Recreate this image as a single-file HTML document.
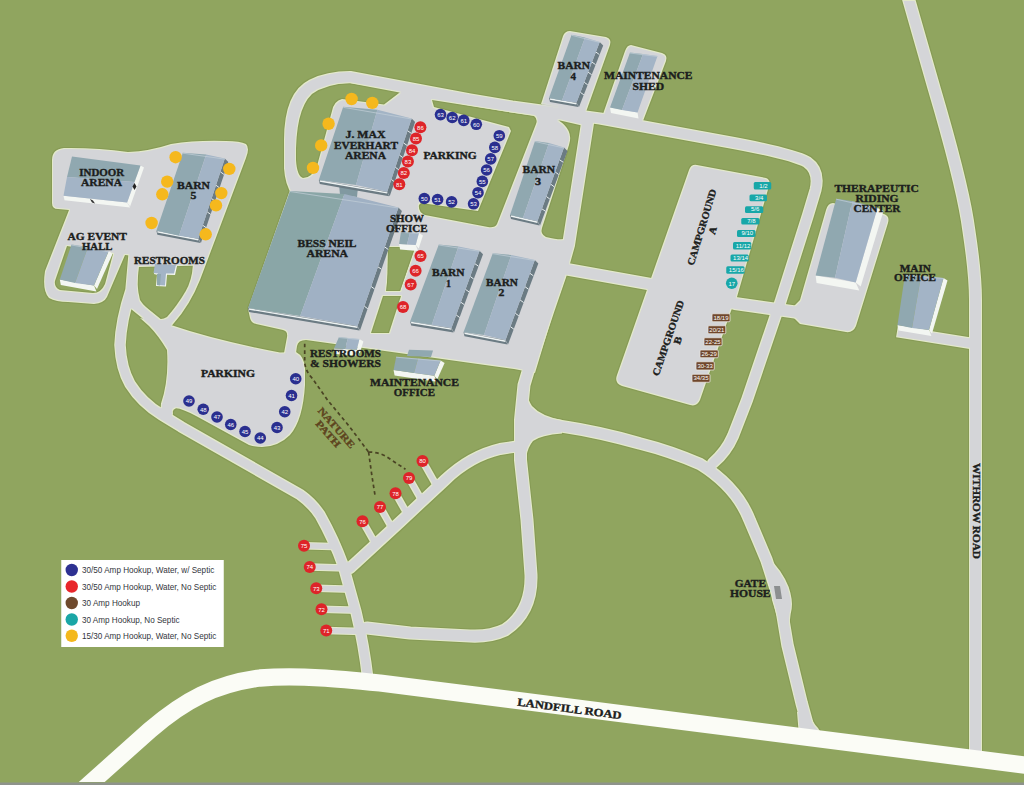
<!DOCTYPE html>
<html><head><meta charset="utf-8"><title>Map</title>
<style>html,body{margin:0;padding:0;background:#90a55f;width:1024px;height:785px;overflow:hidden}
svg{display:block}
text{font-family:"Liberation Serif",serif;font-weight:bold}
.s{font-family:"Liberation Sans",sans-serif;font-weight:normal}
.n{font-family:"Liberation Sans",sans-serif;font-weight:normal;font-size:6px;fill:#fff}
</style></head><body>
<svg width="1024" height="785" viewBox="0 0 1024 785">
<defs>
<mask id="gm" maskUnits="userSpaceOnUse" x="0" y="0" width="1024" height="785">
<rect x="0" y="0" width="1024" height="785" fill="#000"/>
<path d="M64,148 Q52,149 52,160 L52,203 Q52,209 58,209 L69,210 L45,271 Q42,291 49,298 Q56,302 68,302 L94,304 Q104,303 107,297 L125,255 L134,256 L131,300 L168,330 L174,323 Q190,305 200,280 L246,158 Q250,148 246,144 Q240,141 226,141 Q196,140 171,144 Q150,151 128,152 Q100,148 70,148 Z" fill="#fff" />
<path d="M138.5,267 L192.8,265.7 Q192,280 185.6,291.3 Q177,306 167,317 Q162,320 158.5,318.5 Q145,308 140,300 Q136,285 138.5,267 Z" fill="#000" />
<path d="M172.5,325.5 Q215,340 280,352.5 L296,352 Q304,356 305,368 L305,385 Q303,420 290,435 Q278,447 262,447 Q255,447 249,445 L197,416.5 Q182,408.5 176,408.3 Q172,410 173,413 L172,420 L160,420 L161,403.5 Q169,380 167,350 Q158,335 149,326 L140,318 Z" fill="#fff" />
<path d="M290,190 L290,140 Q290,95 312,84 Q328,76 350,76 L589,120 L568,250 L565.5,277.5 L554,310 L535,373 L514,369 L306,340 Q298,340 297,346 L296,353 L284,353 L287,337 Q288,331 283,330 L256,324 Q251,323 250,318 L248,309 Z" fill="#fff" />
<path d="M570,31 L606,37 Q612,39 610,45 L586,112 L541,104 L563,36 Q565,31 570,31 Z" fill="#fff" />
<path d="M631,45 L662,53 Q668,55 666,61 L643,121 L603,114 L625,51 Q627,45 631,45 Z" fill="#fff" />
<path d="M697,165 L766,178 Q771,180 769,186 L737,297 L731,311 L700,400 Q697,407 690,405 L622,386 Q614,383 617,375 L689,170 Q691,164 697,165 Z" fill="#fff" />
<path d="M833,203 L884,214 Q890,216 888,223 L856,326 Q853,333 846,332 L800,324 L788,312 L800,300 L826,210 Q828,203 833,203 Z" fill="#fff" />
<path d="M296,160 Q295,110 312,94 Q326,84 350,83 L401,91.5 L384,104.5 L342,99 Q334,101 332,111 L317,166 Q312,178 303,178 Q297,176 296,160 Z" fill="#000" />
<path d="M432,100 L534,116 Q538,119 536,124 L497,224 Q495,228 488,227 L425,215 Q418,212 419,205 L421,203 L478,211 L511,131 L509,127 L434,107 Z" fill="#000" />
<path d="M558,120 L584,126 L566,238 Q563,241 546,237 Q540,234 542,228 L569,145 Q574,130 558,120 Z" fill="#000" />
<path d="M67,246 L113,254 L105,284 Q101,293 93,293 L60,290 Q54,287 55,281 Z" fill="#000" />
<path d="M388,247 L415,247 L400,291 L387,291 Z" fill="#000" />
<polygon points="391,248 415,248 400,291 386,291" fill="#000" />
<polygon points="383,296 401,296 389,333 371,333" fill="#000" />
<path d="M297,191 Q291,183 290,168 L290,140 Q290,96 312,85 Q328,77 350,77 L470,99.5 L512,106.5 L600,118.5 L720,140.5 Q790,153 807,162 Q820,171 815.5,190 L808,215 L781,300 L747,400 L733,436 Q726,452 713,463" fill="none" stroke="#fff" stroke-width="12" stroke-linejoin="round" stroke-linecap="round"/>
<path d="M588,120 L568.5,245 L560,275 L548,310 L533,355 L524,385 L520.5,420 L520.5,460 L527,520 L531,575 Q532,612 505,630 Q490,637 470,636 L410,633 L367,628" fill="none" stroke="#fff" stroke-width="13" stroke-linejoin="round" stroke-linecap="round"/>
<path d="M560,268 L652,284.5" fill="none" stroke="#fff" stroke-width="12.5" stroke-linejoin="round" stroke-linecap="round"/>
<path d="M735,303.5 L795,312" fill="none" stroke="#fff" stroke-width="13" stroke-linejoin="round" stroke-linecap="round"/>
<path d="M522,419.5 L560,426 Q600,432 640,443.5 Q670,451 700,464 Q737,487 750,521 Q759,542 766.5,560 L778,596 Q782,610 783.5,621 L787.5,645 L801.6,703 L809,730" fill="none" stroke="#fff" stroke-width="12.5" stroke-linejoin="round" stroke-linecap="round"/>
<path d="M350,568 L400,522 L445,480 Q470,456 500,449 L520,446" fill="none" stroke="#fff" stroke-width="12" stroke-linejoin="round" stroke-linecap="round"/>
<path d="M134,256 L131,290 Q121,320 120,345 Q121,368 130,384 Q142,403 162,415 L181,426.7 L300,494.5 Q312,503 320,515 Q334,540 343,565 L356,612 Q364,645 368,680" fill="none" stroke="#fff" stroke-width="11.5" stroke-linejoin="round" stroke-linecap="round"/>
<path d="M131,302 L168,332" fill="none" stroke="#fff" stroke-width="11" stroke-linejoin="round" stroke-linecap="round"/>
<path d="M906,-10 L933,84.4 C942,115 960,175 967.3,220 C971,245 975.5,270 975.5,300 L975.5,755" fill="none" stroke="#fff" stroke-width="13" stroke-linejoin="round" stroke-linecap="round"/>
<path d="M897,331.5 L972,343.5" stroke="#fff" stroke-width="11.5" fill="none"/>
<path d="M304,545.75 L340,546.75" stroke="#fff" stroke-width="7.5" fill="none"/>
<path d="M309.75,567 L345.75,568" stroke="#fff" stroke-width="7.5" fill="none"/>
<path d="M316.25,588.25 L352.25,589.25" stroke="#fff" stroke-width="7.5" fill="none"/>
<path d="M321.5,609.25 L357.5,610.25" stroke="#fff" stroke-width="7.5" fill="none"/>
<path d="M326.25,630.5 L362.25,631.5" stroke="#fff" stroke-width="7.5" fill="none"/>
<path d="M362.5,521.25 L375.0,543.25" stroke="#fff" stroke-width="7.5" fill="none"/>
<path d="M380,507 L392.5,529" stroke="#fff" stroke-width="7.5" fill="none"/>
<path d="M395.5,493.25 L408.0,515.25" stroke="#fff" stroke-width="7.5" fill="none"/>
<path d="M409,478 L421.5,500" stroke="#fff" stroke-width="7.5" fill="none"/>
<path d="M422.5,461 L435.0,483" stroke="#fff" stroke-width="7.5" fill="none"/>
<path d="M527,392 L527,420 L562,420 Q541,416 532,406 Q528,400 527,392 Z" fill="#fff" />
<path d="M526.5,456 L526.5,424 L562,424 L562,433.5 Q541,435 533,441 Q528,447 526.5,456 Z" fill="#fff" />
<path d="M767,556 Q782,570 788.7,587 Q793,600 791.7,608.7 Q789,620 790,632 L784,640 L772,600 Z" fill="#fff" />
<path d="M797,712 L808,710 Q812,722 818,728 L823,736 L799,736 Z" fill="#fff" />
</mask>
<filter id="dil" filterUnits="userSpaceOnUse" x="0" y="0" width="1024" height="785"><feMorphology operator="dilate" radius="1"/></filter>
<filter id="ero" filterUnits="userSpaceOnUse" x="0" y="0" width="1024" height="785"><feMorphology operator="erode" radius="1"/></filter>
</defs>
<rect x="0" y="0" width="1024" height="785" fill="#90a55f"/>
<g filter="url(#dil)"><rect x="0" y="0" width="1024" height="785" fill="#879b55" mask="url(#gm)"/></g>
<rect x="0" y="0" width="1024" height="785" fill="#e3e9cb" mask="url(#gm)"/>
<g filter="url(#ero)"><rect x="0" y="0" width="1024" height="785" fill="#d4d5d8" mask="url(#gm)"/></g>
<path d="M66,805 L150,730 C185,700 215,684 260,678 C300,675 340,679 380,683 L1040,767" fill="none" stroke="#fbfcf6" stroke-width="17.3" stroke-linejoin="round" stroke-linecap="round"/>
<rect x="0" y="782" width="1024" height="1" fill="#8f9d76"/><rect x="0" y="783" width="1024" height="2" fill="#8e938b"/>
<polygon points="140.5,165.4 144.0,167.4 130.1,206.5 127.1,202.5" fill="#f3f6f2"/>
<polygon points="63.5,195.7 127.1,202.5 130.1,207.5 64.5,200.2" fill="#f3f6f2"/>
<polygon points="72.0,156.6 140.5,165.4 134.5,182.0 67.0,177.0" fill="#90a8b0"/>
<polygon points="67.0,177.0 134.5,182.0 127.1,202.5 63.5,195.7" fill="#a3b4c6"/>
<polygon points="134.5,183 136.5,186.5 134.5,190 132.5,186.5" fill="#222"/>
<polygon points="90,199 93,200.5 95,203.5 92,202.5" fill="#333"/>
<polygon points="224.8,158.6 228.3,162.1 200.9,243.1 198.4,238.6" fill="#6b7b83"/>
<line x1="220.4" y1="171.9" x2="223.9" y2="174.4" stroke="#e9eef0" stroke-width="1"/>
<line x1="216.0" y1="185.3" x2="219.5" y2="187.8" stroke="#e9eef0" stroke-width="1"/>
<line x1="211.6" y1="198.6" x2="215.1" y2="201.1" stroke="#e9eef0" stroke-width="1"/>
<line x1="207.2" y1="211.9" x2="210.7" y2="214.4" stroke="#e9eef0" stroke-width="1"/>
<line x1="202.8" y1="225.3" x2="206.3" y2="227.8" stroke="#e9eef0" stroke-width="1"/>
<polygon points="156.4,230.8 198.4,238.6 200.4,243.1 157.4,234.8" fill="#6b7b83"/>
<line x1="157.4" y1="231.8" x2="198.4" y2="239.8" stroke="#eef3f3" stroke-width="1.4"/>
<polygon points="182.8,152.7 206.2,154.6 179.0,235.7 156.4,230.8" fill="#90a8b0"/>
<polygon points="206.2,154.6 224.8,158.6 198.4,238.6 179.0,235.7" fill="#a3b4c6"/>
<line x1="182.8" y1="153.2" x2="224.8" y2="159.1" stroke="#c3cfd8" stroke-width="1" opacity="0.7"/>
<polygon points="108.6,251.3 112.6,253.8 97.0,289.0 94.0,285.5" fill="#f3f6f2"/>
<polygon points="59.8,279.6 94.0,285.5 96.4,291.5 60.8,285.1" fill="#f3f6f2"/>
<polygon points="71.5,244.5 88.0,247.0 75.0,283.0 59.8,279.6" fill="#90a8b0"/>
<polygon points="88.0,247.0 108.6,251.3 94.0,285.5 75.0,283.0" fill="#a3b4c6"/>
<line x1="71.5" y1="245.0" x2="108.6" y2="251.8" stroke="#c3cfd8" stroke-width="1" opacity="0.7"/>
<polygon points="339,184 358,187 357,197 340,195" fill="#8199a1"/>
<polygon points="411.6,118.5 415.1,122.0 389.7,196.2 387.2,191.7" fill="#6b7b83"/>
<line x1="407.5" y1="130.7" x2="411.0" y2="133.2" stroke="#e9eef0" stroke-width="1"/>
<line x1="403.5" y1="142.9" x2="407.0" y2="145.4" stroke="#e9eef0" stroke-width="1"/>
<line x1="399.4" y1="155.1" x2="402.9" y2="157.6" stroke="#e9eef0" stroke-width="1"/>
<line x1="395.3" y1="167.3" x2="398.8" y2="169.8" stroke="#e9eef0" stroke-width="1"/>
<line x1="391.3" y1="179.5" x2="394.8" y2="182.0" stroke="#e9eef0" stroke-width="1"/>
<polygon points="318.8,180.0 387.2,191.7 389.2,196.2 319.8,184.0" fill="#6b7b83"/>
<line x1="319.8" y1="181.0" x2="387.2" y2="192.9" stroke="#eef3f3" stroke-width="1.4"/>
<polygon points="343.2,106.8 377.4,109.7 356.0,185.0 318.8,180.0" fill="#90a8b0"/>
<polygon points="377.4,109.7 411.6,118.5 387.2,191.7 356.0,185.0" fill="#a3b4c6"/>
<line x1="343.2" y1="107.3" x2="411.6" y2="119.0" stroke="#c3cfd8" stroke-width="1" opacity="0.7"/>
<polygon points="398.4,207.5 401.9,211.0 360.0,330.5 357.5,326.0" fill="#6b7b83"/>
<line x1="391.6" y1="227.2" x2="395.1" y2="229.8" stroke="#e9eef0" stroke-width="1"/>
<line x1="384.8" y1="247.0" x2="388.3" y2="249.5" stroke="#e9eef0" stroke-width="1"/>
<line x1="377.9" y1="266.8" x2="381.4" y2="269.2" stroke="#e9eef0" stroke-width="1"/>
<line x1="371.1" y1="286.5" x2="374.6" y2="289.0" stroke="#e9eef0" stroke-width="1"/>
<line x1="364.3" y1="306.2" x2="367.8" y2="308.8" stroke="#e9eef0" stroke-width="1"/>
<polygon points="248.0,308.0 357.5,326.0 359.5,330.5 249.0,312.0" fill="#6b7b83"/>
<line x1="249.0" y1="309.0" x2="357.5" y2="327.2" stroke="#eef3f3" stroke-width="1.4"/>
<polygon points="290.0,191.0 344.4,194.0 300.2,316.0 248.0,308.0" fill="#8aa6a7"/>
<polygon points="344.4,194.0 398.4,207.5 357.5,326.0 300.2,316.0" fill="#a0b1c4"/>
<line x1="290.0" y1="191.5" x2="398.4" y2="208.0" stroke="#c3cfd8" stroke-width="1" opacity="0.7"/>
<polygon points="599.7,41.9 603.2,45.4 579.0,107.0 576.5,102.5" fill="#6b7b83"/>
<line x1="595.8" y1="52.0" x2="599.3" y2="54.5" stroke="#e9eef0" stroke-width="1"/>
<line x1="592.0" y1="62.1" x2="595.5" y2="64.6" stroke="#e9eef0" stroke-width="1"/>
<line x1="588.1" y1="72.2" x2="591.6" y2="74.7" stroke="#e9eef0" stroke-width="1"/>
<line x1="584.2" y1="82.3" x2="587.7" y2="84.8" stroke="#e9eef0" stroke-width="1"/>
<line x1="580.4" y1="92.4" x2="583.9" y2="94.9" stroke="#e9eef0" stroke-width="1"/>
<polygon points="549.0,98.0 576.5,102.5 578.5,107.0 550.0,102.0" fill="#6b7b83"/>
<line x1="550.0" y1="99.0" x2="576.5" y2="103.7" stroke="#eef3f3" stroke-width="1.4"/>
<polygon points="571.6,34.8 585.0,37.5 562.0,100.5 549.0,98.0" fill="#90a8b0"/>
<polygon points="585.0,37.5 599.7,41.9 576.5,102.5 562.0,100.5" fill="#a3b4c6"/>
<line x1="571.6" y1="35.3" x2="599.7" y2="42.4" stroke="#c3cfd8" stroke-width="1" opacity="0.7"/>
<polygon points="610.0,107.5 637.5,112.5 638.5,118.5 611.0,113.0" fill="#f3f6f2"/>
<polygon points="630.0,52.5 643.0,54.0 622.0,110.0 610.0,107.5" fill="#90a8b0"/>
<polygon points="643.0,54.0 657.5,56.0 637.5,112.5 622.0,110.0" fill="#a3b4c6"/>
<line x1="630.0" y1="53.0" x2="657.5" y2="56.5" stroke="#c3cfd8" stroke-width="1" opacity="0.7"/>
<polygon points="564.0,147.5 567.5,151.0 540.0,225.5 537.5,221.0" fill="#6b7b83"/>
<line x1="559.6" y1="159.8" x2="563.1" y2="162.2" stroke="#e9eef0" stroke-width="1"/>
<line x1="555.2" y1="172.0" x2="558.7" y2="174.5" stroke="#e9eef0" stroke-width="1"/>
<line x1="550.8" y1="184.2" x2="554.2" y2="186.8" stroke="#e9eef0" stroke-width="1"/>
<line x1="546.3" y1="196.5" x2="549.8" y2="199.0" stroke="#e9eef0" stroke-width="1"/>
<line x1="541.9" y1="208.8" x2="545.4" y2="211.2" stroke="#e9eef0" stroke-width="1"/>
<polygon points="510.0,215.0 537.5,221.0 539.5,225.5 511.0,219.0" fill="#6b7b83"/>
<line x1="511.0" y1="216.0" x2="537.5" y2="222.2" stroke="#eef3f3" stroke-width="1.4"/>
<polygon points="535.0,141.0 549.0,143.0 523.0,218.0 510.0,215.0" fill="#90a8b0"/>
<polygon points="549.0,143.0 564.0,147.5 537.5,221.0 523.0,218.0" fill="#a3b4c6"/>
<line x1="535.0" y1="141.5" x2="564.0" y2="148.0" stroke="#c3cfd8" stroke-width="1" opacity="0.7"/>
<polygon points="479.5,250.8 483.0,254.3 454.0,332.4 451.5,327.9" fill="#6b7b83"/>
<line x1="474.8" y1="263.6" x2="478.3" y2="266.1" stroke="#e9eef0" stroke-width="1"/>
<line x1="470.2" y1="276.5" x2="473.7" y2="279.0" stroke="#e9eef0" stroke-width="1"/>
<line x1="465.5" y1="289.4" x2="469.0" y2="291.9" stroke="#e9eef0" stroke-width="1"/>
<line x1="460.8" y1="302.2" x2="464.3" y2="304.7" stroke="#e9eef0" stroke-width="1"/>
<line x1="456.2" y1="315.0" x2="459.7" y2="317.5" stroke="#e9eef0" stroke-width="1"/>
<polygon points="410.1,321.5 451.5,327.9 453.5,332.4 411.1,325.5" fill="#6b7b83"/>
<line x1="411.1" y1="322.5" x2="451.5" y2="329.1" stroke="#eef3f3" stroke-width="1.4"/>
<polygon points="438.8,244.5 458.5,246.4 431.8,324.7 410.1,321.5" fill="#90a8b0"/>
<polygon points="458.5,246.4 479.5,250.8 451.5,327.9 431.8,324.7" fill="#a3b4c6"/>
<line x1="438.8" y1="245.0" x2="479.5" y2="251.3" stroke="#c3cfd8" stroke-width="1" opacity="0.7"/>
<polygon points="534.8,260.0 538.3,263.5 508.0,344.5 505.5,340.0" fill="#6b7b83"/>
<line x1="529.9" y1="273.3" x2="533.4" y2="275.8" stroke="#e9eef0" stroke-width="1"/>
<line x1="525.0" y1="286.7" x2="528.5" y2="289.2" stroke="#e9eef0" stroke-width="1"/>
<line x1="520.1" y1="300.0" x2="523.6" y2="302.5" stroke="#e9eef0" stroke-width="1"/>
<line x1="515.3" y1="313.3" x2="518.8" y2="315.8" stroke="#e9eef0" stroke-width="1"/>
<line x1="510.4" y1="326.7" x2="513.9" y2="329.2" stroke="#e9eef0" stroke-width="1"/>
<polygon points="463.5,332.3 505.5,340.0 507.5,344.5 464.5,336.3" fill="#6b7b83"/>
<line x1="464.5" y1="333.3" x2="505.5" y2="341.2" stroke="#eef3f3" stroke-width="1.4"/>
<polygon points="492.8,253.2 511.3,255.0 484.0,335.0 463.5,332.3" fill="#90a8b0"/>
<polygon points="511.3,255.0 534.8,260.0 505.5,340.0 484.0,335.0" fill="#a3b4c6"/>
<line x1="492.8" y1="253.7" x2="534.8" y2="260.5" stroke="#c3cfd8" stroke-width="1" opacity="0.7"/>
<polygon points="418.9,233.0 422.9,235.5 418.7,248.5 415.7,245.0" fill="#f3f6f2"/>
<polygon points="399.1,243.9 415.7,245.0 418.1,251.0 400.1,249.4" fill="#f3f6f2"/>
<polygon points="401.0,231.8 410.0,232.4 407.0,244.5 399.1,243.9" fill="#90a8b0"/>
<polygon points="410.0,232.4 418.9,233.0 415.7,245.0 407.0,244.5" fill="#a3b4c6"/>
<line x1="401.0" y1="232.3" x2="418.9" y2="233.5" stroke="#c3cfd8" stroke-width="1" opacity="0.7"/>
<polygon points="877.5,207.9 883.5,210.9 860.7,286.4 855.7,282.4" fill="#f3f6f2"/>
<polygon points="815.6,275.5 855.7,282.4 859.3,290.4 816.6,283.0" fill="#f3f6f2"/>
<polygon points="836.2,198.7 852.3,201.0 835.0,277.8 815.6,275.5" fill="#90a8b0"/>
<polygon points="852.3,201.0 877.5,207.9 855.7,282.4 835.0,277.8" fill="#a3b4c6"/>
<line x1="836.2" y1="199.2" x2="877.5" y2="208.4" stroke="#c3cfd8" stroke-width="1" opacity="0.7"/>
<polygon points="943.5,278.0 947.5,280.5 932.0,333.5 929.0,330.0" fill="#f3f6f2"/>
<polygon points="897.5,325.0 929.0,330.0 931.4,336.0 898.5,330.5" fill="#f3f6f2"/>
<polygon points="905.0,274.5 921.0,276.0 912.0,328.0 897.5,325.0" fill="#90a8b0"/>
<polygon points="921.0,276.0 943.5,278.0 929.0,330.0 912.0,328.0" fill="#a3b4c6"/>
<line x1="905.0" y1="275.0" x2="943.5" y2="278.5" stroke="#c3cfd8" stroke-width="1" opacity="0.7"/>
<polygon points="155.5,265.0 177.0,266.0 175.0,275.0 167.0,274.8 166.0,286.5 156.0,286.0 157.0,274.8 154.0,274.0" fill="#f3f6f2"/>
<polygon points="155.0,264.0 176.0,265.0 174.0,273.5 166.0,273.5 165.0,285.5 157.0,285.0 158.0,273.5 153.5,273.0" fill="#a3b4c6"/>
<polygon points="157.0,274.0 161.0,274.0 160.0,285.5 157.0,285.0" fill="#90a8b0"/>
<polygon points="359.4,339.0 363.4,341.5 359.8,353.3 356.8,349.8" fill="#f3f6f2"/>
<polygon points="334.0,348.5 356.8,349.8 359.2,355.8 335.0,354.0" fill="#f3f6f2"/>
<polygon points="339.0,337.0 348.0,338.0 345.0,349.0 334.0,348.5" fill="#90a8b0"/>
<polygon points="348.0,338.0 359.4,339.0 356.8,349.8 345.0,349.0" fill="#a3b4c6"/>
<line x1="339.0" y1="337.5" x2="359.4" y2="339.5" stroke="#c3cfd8" stroke-width="1" opacity="0.7"/>
<polygon points="409.0,349.8 433.0,350.4 431.0,357.0 407.0,356.0" fill="#90a8b0"/>
<polygon points="440.6,360.5 444.6,363.0 437.3,379.3 434.3,375.8" fill="#f3f6f2"/>
<polygon points="393.6,370.0 434.3,375.8 436.7,381.8 394.6,375.5" fill="#f3f6f2"/>
<polygon points="396.2,356.7 418.0,358.5 414.0,373.0 393.6,370.0" fill="#90a8b0"/>
<polygon points="418.0,358.5 440.6,360.5 434.3,375.8 414.0,373.0" fill="#a3b4c6"/>
<line x1="396.2" y1="357.2" x2="440.6" y2="361.0" stroke="#c3cfd8" stroke-width="1" opacity="0.7"/>
<polygon points="774,586 780,586 782,599 776,599" fill="#8c8f90"/>
<circle cx="175.6" cy="157.2" r="6.2" fill="#f5b81d"/>
<circle cx="167.2" cy="181.6" r="6.2" fill="#f5b81d"/>
<circle cx="162.3" cy="194.3" r="6.2" fill="#f5b81d"/>
<circle cx="151.6" cy="223" r="6.2" fill="#f5b81d"/>
<circle cx="229.3" cy="168.9" r="6.2" fill="#f5b81d"/>
<circle cx="221.3" cy="193.1" r="6.2" fill="#f5b81d"/>
<circle cx="216" cy="205.4" r="6.2" fill="#f5b81d"/>
<circle cx="205.7" cy="234.3" r="6.2" fill="#f5b81d"/>
<circle cx="351.6" cy="99" r="6.2" fill="#f5b81d"/>
<circle cx="372.3" cy="102.9" r="6.2" fill="#f5b81d"/>
<circle cx="328.6" cy="123.75" r="6.2" fill="#f5b81d"/>
<circle cx="321.2" cy="145.4" r="6.2" fill="#f5b81d"/>
<circle cx="313" cy="167.9" r="6.2" fill="#f5b81d"/>
<circle cx="420.4" cy="127.3" r="6" fill="#de2429"/><text x="420.4" y="129.6" class="n" text-anchor="middle">86</text>
<circle cx="416" cy="138.6" r="6" fill="#de2429"/><text x="416" y="140.9" class="n" text-anchor="middle">85</text>
<circle cx="412" cy="150.3" r="6" fill="#de2429"/><text x="412" y="152.60000000000002" class="n" text-anchor="middle">84</text>
<circle cx="407.9" cy="161.4" r="6" fill="#de2429"/><text x="407.9" y="163.70000000000002" class="n" text-anchor="middle">83</text>
<circle cx="403.8" cy="173" r="6" fill="#de2429"/><text x="403.8" y="175.3" class="n" text-anchor="middle">82</text>
<circle cx="399.3" cy="184.3" r="6" fill="#de2429"/><text x="399.3" y="186.60000000000002" class="n" text-anchor="middle">81</text>
<circle cx="420.5" cy="256" r="6" fill="#de2429"/><text x="420.5" y="258.3" class="n" text-anchor="middle">65</text>
<circle cx="415.6" cy="270.8" r="6" fill="#de2429"/><text x="415.6" y="273.1" class="n" text-anchor="middle">66</text>
<circle cx="410.7" cy="284.5" r="6" fill="#de2429"/><text x="410.7" y="286.8" class="n" text-anchor="middle">67</text>
<circle cx="403" cy="307" r="6" fill="#de2429"/><text x="403" y="309.3" class="n" text-anchor="middle">68</text>
<circle cx="304" cy="545.75" r="6" fill="#de2429"/><text x="304" y="548.05" class="n" text-anchor="middle">75</text>
<circle cx="309.75" cy="567" r="6" fill="#de2429"/><text x="309.75" y="569.3" class="n" text-anchor="middle">74</text>
<circle cx="316.25" cy="588.25" r="6" fill="#de2429"/><text x="316.25" y="590.55" class="n" text-anchor="middle">73</text>
<circle cx="321.5" cy="609.25" r="6" fill="#de2429"/><text x="321.5" y="611.55" class="n" text-anchor="middle">72</text>
<circle cx="326.25" cy="630.5" r="6" fill="#de2429"/><text x="326.25" y="632.8" class="n" text-anchor="middle">71</text>
<circle cx="362.5" cy="521.25" r="6" fill="#de2429"/><text x="362.5" y="523.55" class="n" text-anchor="middle">76</text>
<circle cx="380" cy="507" r="6" fill="#de2429"/><text x="380" y="509.3" class="n" text-anchor="middle">77</text>
<circle cx="395.5" cy="493.25" r="6" fill="#de2429"/><text x="395.5" y="495.55" class="n" text-anchor="middle">78</text>
<circle cx="409" cy="478" r="6" fill="#de2429"/><text x="409" y="480.3" class="n" text-anchor="middle">79</text>
<circle cx="422.5" cy="461" r="6" fill="#de2429"/><text x="422.5" y="463.3" class="n" text-anchor="middle">80</text>
<circle cx="295.75" cy="378.75" r="5.8" fill="#2a2f8f"/><text x="295.75" y="381.05" class="n" text-anchor="middle">40</text>
<circle cx="291.5" cy="395.5" r="5.8" fill="#2a2f8f"/><text x="291.5" y="397.8" class="n" text-anchor="middle">41</text>
<circle cx="284.75" cy="411.75" r="5.8" fill="#2a2f8f"/><text x="284.75" y="414.05" class="n" text-anchor="middle">42</text>
<circle cx="277" cy="427.5" r="5.8" fill="#2a2f8f"/><text x="277" y="429.8" class="n" text-anchor="middle">43</text>
<circle cx="260.25" cy="438" r="5.8" fill="#2a2f8f"/><text x="260.25" y="440.3" class="n" text-anchor="middle">44</text>
<circle cx="245" cy="431.5" r="5.8" fill="#2a2f8f"/><text x="245" y="433.8" class="n" text-anchor="middle">45</text>
<circle cx="230.75" cy="424.5" r="5.8" fill="#2a2f8f"/><text x="230.75" y="426.8" class="n" text-anchor="middle">46</text>
<circle cx="217" cy="417" r="5.8" fill="#2a2f8f"/><text x="217" y="419.3" class="n" text-anchor="middle">47</text>
<circle cx="203.25" cy="409.25" r="5.8" fill="#2a2f8f"/><text x="203.25" y="411.55" class="n" text-anchor="middle">48</text>
<circle cx="189" cy="401" r="5.8" fill="#2a2f8f"/><text x="189" y="403.3" class="n" text-anchor="middle">49</text>
<circle cx="424.3" cy="198.5" r="5.8" fill="#2a2f8f"/><text x="424.3" y="200.8" class="n" text-anchor="middle">50</text>
<circle cx="437.6" cy="199.5" r="5.8" fill="#2a2f8f"/><text x="437.6" y="201.8" class="n" text-anchor="middle">51</text>
<circle cx="451.6" cy="201.9" r="5.8" fill="#2a2f8f"/><text x="451.6" y="204.20000000000002" class="n" text-anchor="middle">52</text>
<circle cx="473.55" cy="203.8" r="5.8" fill="#2a2f8f"/><text x="473.55" y="206.10000000000002" class="n" text-anchor="middle">53</text>
<circle cx="478" cy="192.7" r="5.8" fill="#2a2f8f"/><text x="478" y="195.0" class="n" text-anchor="middle">54</text>
<circle cx="482.3" cy="181.4" r="5.8" fill="#2a2f8f"/><text x="482.3" y="183.70000000000002" class="n" text-anchor="middle">55</text>
<circle cx="486.6" cy="170" r="5.8" fill="#2a2f8f"/><text x="486.6" y="172.3" class="n" text-anchor="middle">56</text>
<circle cx="490.7" cy="158.9" r="5.8" fill="#2a2f8f"/><text x="490.7" y="161.20000000000002" class="n" text-anchor="middle">57</text>
<circle cx="494.8" cy="147.4" r="5.8" fill="#2a2f8f"/><text x="494.8" y="149.70000000000002" class="n" text-anchor="middle">58</text>
<circle cx="499.3" cy="135.7" r="5.8" fill="#2a2f8f"/><text x="499.3" y="138.0" class="n" text-anchor="middle">59</text>
<circle cx="476.3" cy="124.3" r="5.8" fill="#2a2f8f"/><text x="476.3" y="126.6" class="n" text-anchor="middle">60</text>
<circle cx="463.75" cy="120.4" r="5.8" fill="#2a2f8f"/><text x="463.75" y="122.7" class="n" text-anchor="middle">61</text>
<circle cx="452.2" cy="117.5" r="5.8" fill="#2a2f8f"/><text x="452.2" y="119.8" class="n" text-anchor="middle">62</text>
<circle cx="440.5" cy="114.6" r="5.8" fill="#2a2f8f"/><text x="440.5" y="116.89999999999999" class="n" text-anchor="middle">63</text>
<text x="79.3" y="176.29999999999998" font-size="10.5" fill="#1c1e1d" stroke="#1c1e1d" stroke-width="0.35" textLength="44.9" lengthAdjust="spacingAndGlyphs" >INDOOR</text>
<text x="81" y="186.2" font-size="10.5" fill="#1c1e1d" stroke="#1c1e1d" stroke-width="0.35" textLength="41.0" lengthAdjust="spacingAndGlyphs" >ARENA</text>
<text x="177" y="189.2" font-size="10.5" fill="#1c1e1d" stroke="#1c1e1d" stroke-width="0.35" textLength="33.0" lengthAdjust="spacingAndGlyphs" >BARN</text>
<text x="190.6" y="198.79999999999998" font-size="10.5" fill="#1c1e1d" stroke="#1c1e1d" stroke-width="0.35" textLength="5.9" lengthAdjust="spacingAndGlyphs" >5</text>
<text x="67.6" y="239.79999999999998" font-size="10.5" fill="#1c1e1d" stroke="#1c1e1d" stroke-width="0.35" textLength="59.4" lengthAdjust="spacingAndGlyphs" >AG EVENT</text>
<text x="82" y="249.5" font-size="10.5" fill="#1c1e1d" stroke="#1c1e1d" stroke-width="0.35" textLength="30.5" lengthAdjust="spacingAndGlyphs" >HALL</text>
<text x="134" y="264.2" font-size="10.5" fill="#1c1e1d" stroke="#1c1e1d" stroke-width="0.35" textLength="71.0" lengthAdjust="spacingAndGlyphs" >RESTROOMS</text>
<text x="345.5" y="138.2" font-size="10" fill="#1c1e1d" stroke="#1c1e1d" stroke-width="0.35" textLength="40.0" lengthAdjust="spacingAndGlyphs" >J. MAX</text>
<text x="334" y="148.7" font-size="10" fill="#1c1e1d" stroke="#1c1e1d" stroke-width="0.35" textLength="64.0" lengthAdjust="spacingAndGlyphs" >EVERHART</text>
<text x="345" y="158.7" font-size="10" fill="#1c1e1d" stroke="#1c1e1d" stroke-width="0.35" textLength="41.0" lengthAdjust="spacingAndGlyphs" >ARENA</text>
<text x="423.4" y="159.2" font-size="10" fill="#1c1e1d" stroke="#1c1e1d" stroke-width="0.35" textLength="53.3" lengthAdjust="spacingAndGlyphs" >PARKING</text>
<text x="297.5" y="247.2" font-size="10" fill="#1c1e1d" stroke="#1c1e1d" stroke-width="0.35" textLength="59.0" lengthAdjust="spacingAndGlyphs" >BESS NEIL</text>
<text x="306.5" y="257.2" font-size="10" fill="#1c1e1d" stroke="#1c1e1d" stroke-width="0.35" textLength="41.5" lengthAdjust="spacingAndGlyphs" >ARENA</text>
<text x="390" y="221.7" font-size="10" fill="#1c1e1d" stroke="#1c1e1d" stroke-width="0.35" textLength="34.0" lengthAdjust="spacingAndGlyphs" >SHOW</text>
<text x="386" y="231.7" font-size="10" fill="#1c1e1d" stroke="#1c1e1d" stroke-width="0.35" textLength="41.5" lengthAdjust="spacingAndGlyphs" >OFFICE</text>
<text x="432" y="276.0" font-size="10" fill="#1c1e1d" stroke="#1c1e1d" stroke-width="0.35" textLength="32.5" lengthAdjust="spacingAndGlyphs" >BARN</text>
<text x="446" y="286.59999999999997" font-size="10" fill="#1c1e1d" stroke="#1c1e1d" stroke-width="0.35" textLength="5.0" lengthAdjust="spacingAndGlyphs" >1</text>
<text x="486" y="285.59999999999997" font-size="10" fill="#1c1e1d" stroke="#1c1e1d" stroke-width="0.35" textLength="32.0" lengthAdjust="spacingAndGlyphs" >BARN</text>
<text x="498.6" y="296.2" font-size="10" fill="#1c1e1d" stroke="#1c1e1d" stroke-width="0.35" textLength="5.9" lengthAdjust="spacingAndGlyphs" >2</text>
<text x="522.5" y="173.2" font-size="10" fill="#1c1e1d" stroke="#1c1e1d" stroke-width="0.35" textLength="32.5" lengthAdjust="spacingAndGlyphs" >BARN</text>
<text x="535" y="185.2" font-size="10" fill="#1c1e1d" stroke="#1c1e1d" stroke-width="0.35" textLength="6.0" lengthAdjust="spacingAndGlyphs" >3</text>
<text x="557.5" y="69.2" font-size="10" fill="#1c1e1d" stroke="#1c1e1d" stroke-width="0.35" textLength="32.5" lengthAdjust="spacingAndGlyphs" >BARN</text>
<text x="570.5" y="80.2" font-size="10" fill="#1c1e1d" stroke="#1c1e1d" stroke-width="0.35" textLength="5.5" lengthAdjust="spacingAndGlyphs" >4</text>
<text x="604" y="79.2" font-size="10" fill="#1c1e1d" stroke="#1c1e1d" stroke-width="0.35" textLength="88.5" lengthAdjust="spacingAndGlyphs" >MAINTENANCE</text>
<text x="632.5" y="90.2" font-size="10" fill="#1c1e1d" stroke="#1c1e1d" stroke-width="0.35" textLength="31.5" lengthAdjust="spacingAndGlyphs" >SHED</text>
<text x="834.4" y="191.79999999999998" font-size="10" fill="#1c1e1d" stroke="#1c1e1d" stroke-width="0.35" textLength="84.4" lengthAdjust="spacingAndGlyphs" >THERAPEUTIC</text>
<text x="855.5" y="201.7" font-size="10" fill="#1c1e1d" stroke="#1c1e1d" stroke-width="0.35" textLength="43.0" lengthAdjust="spacingAndGlyphs" >RIDING</text>
<text x="853.5" y="212.2" font-size="10" fill="#1c1e1d" stroke="#1c1e1d" stroke-width="0.35" textLength="47.0" lengthAdjust="spacingAndGlyphs" >CENTER</text>
<text x="899.7" y="271.5" font-size="10" fill="#1c1e1d" stroke="#1c1e1d" stroke-width="0.35" textLength="31.3" lengthAdjust="spacingAndGlyphs" >MAIN</text>
<text x="894" y="281.4" font-size="10" fill="#1c1e1d" stroke="#1c1e1d" stroke-width="0.35" textLength="42.0" lengthAdjust="spacingAndGlyphs" >OFFICE</text>
<text x="310" y="356.7" font-size="10" fill="#1c1e1d" stroke="#1c1e1d" stroke-width="0.35" textLength="71.0" lengthAdjust="spacingAndGlyphs" >RESTROOMS</text>
<text x="310" y="366.7" font-size="10" fill="#1c1e1d" stroke="#1c1e1d" stroke-width="0.35" textLength="71.0" lengthAdjust="spacingAndGlyphs" >&amp; SHOWERS</text>
<text x="370" y="385.5" font-size="10" fill="#1c1e1d" stroke="#1c1e1d" stroke-width="0.35" textLength="89.0" lengthAdjust="spacingAndGlyphs" >MAINTENANCE</text>
<text x="393.75" y="395.5" font-size="10" fill="#1c1e1d" stroke="#1c1e1d" stroke-width="0.35" textLength="41.2" lengthAdjust="spacingAndGlyphs" >OFFICE</text>
<text x="201" y="376.7" font-size="10" fill="#1c1e1d" stroke="#1c1e1d" stroke-width="0.35" textLength="54.0" lengthAdjust="spacingAndGlyphs" >PARKING</text>
<text x="734.7" y="587.0" font-size="9.5" fill="#1c1e1d" stroke="#1c1e1d" stroke-width="0.35" textLength="31.3" lengthAdjust="spacingAndGlyphs" >GATE</text>
<text x="730" y="597.0" font-size="9.5" fill="#1c1e1d" stroke="#1c1e1d" stroke-width="0.35" textLength="40.6" lengthAdjust="spacingAndGlyphs" >HOUSE</text>
<g transform="translate(693.5,266) rotate(-73)"><text x="0" y="0" font-size="10" fill="#1c1e1d" stroke="#1c1e1d" stroke-width="0.35" textLength="79.0" lengthAdjust="spacingAndGlyphs" >CAMPGROUND</text></g>
<g transform="translate(714.8,235) rotate(-73)"><text x="0" y="0" font-size="10" fill="#1c1e1d" stroke="#1c1e1d" stroke-width="0.35" textLength="7.5" lengthAdjust="spacingAndGlyphs" >A</text></g>
<g transform="translate(658.5,376.5) rotate(-71)"><text x="0" y="0" font-size="10" fill="#1c1e1d" stroke="#1c1e1d" stroke-width="0.35" textLength="79.0" lengthAdjust="spacingAndGlyphs" >CAMPGROUND</text></g>
<g transform="translate(679.8,345) rotate(-71)"><text x="0" y="0" font-size="10" fill="#1c1e1d" stroke="#1c1e1d" stroke-width="0.35" textLength="7.5" lengthAdjust="spacingAndGlyphs" >B</text></g>
<rect x="753.75" y="182" width="17.5" height="7.5" rx="1.5" fill="#18a7a8"/>
<text x="763.5" y="187.9" class="n" text-anchor="middle" font-size="5.5">1/2</text>
<rect x="749.5" y="194.5" width="17.5" height="6.75" rx="1.5" fill="#18a7a8"/>
<text x="759.25" y="199.65" class="n" text-anchor="middle" font-size="5.5">3/4</text>
<rect x="745" y="206.25" width="18.25" height="6.75" rx="1.5" fill="#18a7a8"/>
<text x="755.125" y="211.4" class="n" text-anchor="middle" font-size="5.5">5/6</text>
<rect x="741.25" y="218" width="18.25" height="6.5" rx="1.5" fill="#18a7a8"/>
<text x="751.375" y="222.9" class="n" text-anchor="middle" font-size="5.5">7/8</text>
<rect x="737" y="230" width="18.5" height="7" rx="1.5" fill="#18a7a8"/>
<text x="747.25" y="235.4" class="n" text-anchor="middle" font-size="5.5">9/10</text>
<rect x="733" y="242" width="18.25" height="7.5" rx="1.5" fill="#18a7a8"/>
<text x="743.125" y="247.9" class="n" text-anchor="middle" font-size="5.5">11/12</text>
<rect x="730.5" y="254.5" width="18.25" height="7.0" rx="1.5" fill="#18a7a8"/>
<text x="740.625" y="259.9" class="n" text-anchor="middle" font-size="5.5">13/14</text>
<rect x="726.25" y="266.25" width="18.25" height="7.5" rx="1.5" fill="#18a7a8"/>
<text x="736.375" y="272.15" class="n" text-anchor="middle" font-size="5.5">15/16</text>
<circle cx="731.75" cy="283.25" r="5.8" fill="#18a7a8"/><text x="731.75" y="285.55" class="n" text-anchor="middle">17</text>
<rect x="712" y="313.75" width="18" height="8.0" rx="1" fill="#70472c" stroke="#e9e4de" stroke-width="0.8"/>
<text x="721.0" y="319.95" class="n" text-anchor="middle" font-size="5.5">18/19</text>
<rect x="708" y="325.75" width="17.75" height="8.0" rx="1" fill="#70472c" stroke="#e9e4de" stroke-width="0.8"/>
<text x="716.875" y="331.95" class="n" text-anchor="middle" font-size="5.5">20/21</text>
<rect x="704" y="337.75" width="18" height="8.0" rx="1" fill="#70472c" stroke="#e9e4de" stroke-width="0.8"/>
<text x="713.0" y="343.95" class="n" text-anchor="middle" font-size="5.5">22-25</text>
<rect x="700" y="350" width="18.25" height="7.75" rx="1" fill="#70472c" stroke="#e9e4de" stroke-width="0.8"/>
<text x="709.125" y="355.95" class="n" text-anchor="middle" font-size="5.5">26-29</text>
<rect x="696" y="361.75" width="18.25" height="8.25" rx="1" fill="#70472c" stroke="#e9e4de" stroke-width="0.8"/>
<text x="705.125" y="368.2" class="n" text-anchor="middle" font-size="5.5">30-33</text>
<rect x="692" y="374.25" width="18" height="8.0" rx="1" fill="#70472c" stroke="#e9e4de" stroke-width="0.8"/>
<text x="701.0" y="380.45" class="n" text-anchor="middle" font-size="5.5">34/35</text>
<g transform="translate(517,705.5) rotate(7.5)"><text x="0" y="0" font-size="11" fill="#1c1e1d" stroke="#1c1e1d" stroke-width="0.35" textLength="105.0" lengthAdjust="spacingAndGlyphs" >LANDFILL ROAD</text></g>
<g transform="translate(972.5,463) rotate(90)"><text x="0" y="0" font-size="11" fill="#1c1e1d" stroke="#1c1e1d" stroke-width="0.35" textLength="96.0" lengthAdjust="spacingAndGlyphs" >WITHROW ROAD</text></g>
<g transform="translate(317.3,410.9) rotate(49)"><text x="0" y="0" font-size="10" fill="#5e4520" stroke="#5e4520" stroke-width="0.35" textLength="50.7" lengthAdjust="spacingAndGlyphs" >NATURE</text></g>
<g transform="translate(315,423.9) rotate(49)"><text x="0" y="0" font-size="10" fill="#5e4520" stroke="#5e4520" stroke-width="0.35" textLength="32.3" lengthAdjust="spacingAndGlyphs" >PATH</text></g>
<path d="M304.7,343.7 L304.7,363 Q306,372 312.3,378.3 L327.5,400 L349,426 L368.6,452 M368.6,452 Q378,452 386,456.3 L405.5,469.3 M368.6,452 L371.9,475.8 L375,495.3" fill="none" stroke="#4a4424" stroke-width="1.7" stroke-dasharray="3.6,3"/>
<rect x="61.25" y="560" width="162.5" height="87" fill="#ffffff"/>
<circle cx="71.75" cy="570" r="6.2" fill="#2e3192"/>
<text x="82" y="573.4" font-size="9" fill="#33363d" class="s" textLength="132.3" lengthAdjust="spacingAndGlyphs">30/50 Amp Hookup, Water, w/ Septic</text>
<circle cx="71.75" cy="586.5" r="6.2" fill="#e8262b"/>
<text x="82" y="589.9" font-size="9" fill="#33363d" class="s" textLength="134.3" lengthAdjust="spacingAndGlyphs">30/50 Amp Hookup, Water, No Septic</text>
<circle cx="71.75" cy="603" r="6.2" fill="#6f4a2d"/>
<text x="82" y="606.4" font-size="9" fill="#33363d" class="s" textLength="58" lengthAdjust="spacingAndGlyphs">30 Amp Hookup</text>
<circle cx="71.75" cy="619.5" r="6.2" fill="#1aa6a6"/>
<text x="82" y="622.9" font-size="9" fill="#33363d" class="s" textLength="97.5" lengthAdjust="spacingAndGlyphs">30 Amp Hookup, No Septic</text>
<circle cx="71.75" cy="635.75" r="6.2" fill="#f4b81c"/>
<text x="82" y="639.15" font-size="9" fill="#33363d" class="s" textLength="134.3" lengthAdjust="spacingAndGlyphs">15/30 Amp Hookup, Water, No Septic</text>
</svg>
</body></html>
